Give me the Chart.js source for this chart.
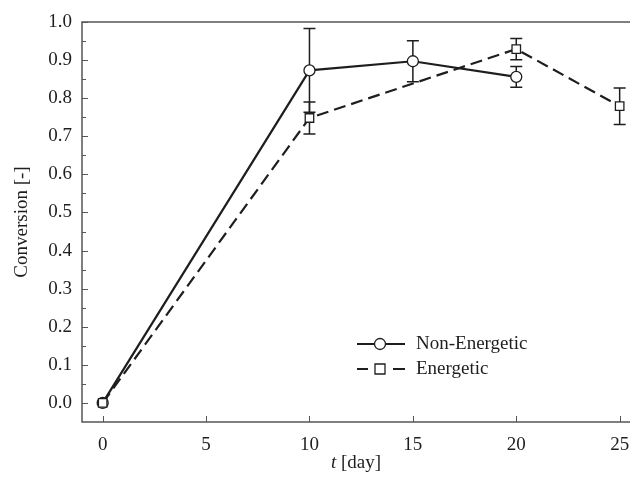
<html>
<head>
    <script src="https://cdn.jsdelivr.net/npm/chart.js"></script>
    <style>
        body { margin: 0; background: #fff; }
    </style>
</head>
<body>
    <canvas id="chart_id" width="630" height="479"></canvas>
    <script>
        // 데이터
        const dayTicks = [0, 5, 10, 15, 20, 25];
        const convTicks = [0.0, 0.1, 0.2, 0.3, 0.4, 0.5, 0.6, 0.7, 0.8, 0.9, 1.0];
        const nonEnergeticDays = [0, 10, 15, 20];
        const nonEnergeticConv = [0.0, 0.873, 0.897, 0.856];
        const nonEnergeticErr = [0, 0.110, 0.054, 0.027];
        const energeticDays = [0, 10, 20, 25];
        const energeticConv = [0.0, 0.748, 0.929, 0.779];
        const energeticErr = [0, 0.042, 0.028, 0.048];

        const INK = '#1e1e1e';
        const AXIS = '#555';
        const FONT = '"Liberation Serif", "DejaVu Serif", serif';

        const toPoints = (xs, ys) => xs.map((x, i) => ({ x: x, y: ys[i] }));

        // 에러바
        const errorBars = {
            id: 'errorBars',
            beforeDatasetsDraw(chart) {
                const { ctx, scales: { x, y } } = chart;
                const sets = [
                    [nonEnergeticDays, nonEnergeticConv, nonEnergeticErr],
                    [energeticDays, energeticConv, energeticErr]
                ];
                ctx.save();
                ctx.strokeStyle = INK;
                ctx.lineWidth = 1.5;
                sets.forEach(([xs, ys, es]) => {
                    xs.forEach((d, i) => {
                        if (!es[i]) return;
                        const px = x.getPixelForValue(d);
                        const top = y.getPixelForValue(ys[i] + es[i]);
                        const bot = y.getPixelForValue(ys[i] - es[i]);
                        ctx.beginPath();
                        ctx.moveTo(px, top); ctx.lineTo(px, bot);
                        ctx.moveTo(px - 6, top); ctx.lineTo(px + 6, top);
                        ctx.moveTo(px - 6, bot); ctx.lineTo(px + 6, bot);
                        ctx.stroke();
                    });
                });
                ctx.restore();
            }
        };

        // 축 테두리, 안쪽 눈금, x 눈금 라벨, 축 제목, 범례
        const frame = {
            id: 'frame',
            afterDraw(chart) {
                const { ctx, chartArea: a, scales: { x, y } } = chart;
                ctx.save();
                ctx.strokeStyle = AXIS;
                ctx.lineWidth = 1.5;
                ctx.beginPath();
                ctx.moveTo(a.right, a.top); ctx.lineTo(a.left, a.top);
                ctx.lineTo(a.left, a.bottom); ctx.lineTo(a.right, a.bottom);
                ctx.stroke();

                ctx.lineWidth = 1;
                ctx.beginPath();
                convTicks.forEach(v => {
                    const py = Math.round(y.getPixelForValue(v)) + 0.5;
                    ctx.moveTo(a.left, py); ctx.lineTo(a.left + 6, py);
                    const pm = Math.round(y.getPixelForValue(v + 0.05)) + 0.5;
                    if (v + 0.05 < 1.0) { ctx.moveTo(a.left, pm); ctx.lineTo(a.left + 4, pm); }
                });
                dayTicks.forEach(v => {
                    const px = Math.round(x.getPixelForValue(v)) + 0.5;
                    ctx.moveTo(px, a.bottom); ctx.lineTo(px, a.bottom - 6);
                });
                ctx.stroke();

                ctx.fillStyle = INK;
                ctx.textBaseline = 'middle';
                ctx.font = '19px ' + FONT;
                ctx.textAlign = 'center';
                dayTicks.forEach(v => {
                    ctx.fillText(String(v), x.getPixelForValue(v), a.bottom + 23);
                });

                // 축 제목
                ctx.font = 'italic 19px ' + FONT;
                const tW = ctx.measureText('t').width;
                ctx.font = '19px ' + FONT;
                const rW = ctx.measureText(' [day]').width;
                const cx = (a.left + a.right) / 2;
                const sx = cx - (tW + rW) / 2;
                ctx.textAlign = 'left';
                ctx.font = 'italic 19px ' + FONT;
                ctx.fillText('t', sx, 463);
                ctx.font = '19px ' + FONT;
                ctx.fillText(' [day]', sx + tW, 463);

                ctx.save();
                ctx.translate(22, (a.top + a.bottom) / 2);
                ctx.rotate(-Math.PI / 2);
                ctx.textAlign = 'center';
                ctx.fillText('Conversion [-]', 0, 0);
                ctx.restore();

                // 범례
                const rows = [
                    { label: 'Non-Energetic', dash: false, style: 'circle', y: 344 },
                    { label: 'Energetic', dash: true, style: 'rect', y: 369 }
                ];
                rows.forEach(r => {
                    ctx.strokeStyle = INK;
                    ctx.lineWidth = 2;
                    ctx.beginPath();
                    if (r.dash) {
                        ctx.moveTo(357, r.y); ctx.lineTo(368, r.y);
                        ctx.moveTo(393, r.y); ctx.lineTo(405, r.y);
                    } else {
                        ctx.moveTo(357, r.y); ctx.lineTo(405, r.y);
                    }
                    ctx.stroke();
                    ctx.lineWidth = 1.3;
                    ctx.fillStyle = '#fff';
                    ctx.beginPath();
                    if (r.style === 'circle') ctx.arc(380, r.y, 5.5, 0, Math.PI * 2);
                    else ctx.rect(375, r.y - 5, 10, 10);
                    ctx.fill(); ctx.stroke();
                    ctx.fillStyle = INK;
                    ctx.textAlign = 'left';
                    ctx.fillText(r.label, 416, r.y);
                });
                ctx.restore();
            }
        };

        new Chart(document.getElementById('chart_id'), {
            type: 'scatter',
            data: {
                datasets: [{
                    label: 'Non-Energetic',
                    data: toPoints(nonEnergeticDays, nonEnergeticConv),
                    showLine: true,
                    borderColor: INK,
                    borderWidth: 2.2,
                    pointStyle: 'circle',
                    pointRadius: 5.5,
                    pointBorderWidth: 1.3,
                    pointBackgroundColor: '#fff',
                    pointBorderColor: INK,
                    order: 1
                }, {
                    label: 'Energetic',
                    data: toPoints(energeticDays, energeticConv),
                    showLine: true,
                    borderColor: INK,
                    borderWidth: 2.2,
                    borderDash: [12, 6],
                    pointStyle: 'rect',
                    pointRadius: 6,
                    pointBorderWidth: 1.3,
                    pointBackgroundColor: '#fff',
                    pointBorderColor: INK,
                    order: 0
                }]
            },
            options: {
                responsive: false,
                animation: false,
                layout: { autoPadding: false, padding: { top: 22, right: 0, left: 0, bottom: 0 } },
                plugins: { legend: { display: false }, tooltip: { enabled: false } },
                scales: {
                    x: {
                        type: 'linear',
                        min: -1,
                        max: 25.5,
                        grid: { display: false },
                        border: { display: false },
                        afterBuildTicks: s => { s.ticks = dayTicks.map(v => ({ value: v })); },
                        afterFit: s => { s.height = 57; },
                        ticks: { display: false }
                    },
                    y: {
                        min: -0.05,
                        max: 1.0,
                        grid: { display: false },
                        border: { display: false },
                        afterBuildTicks: s => { s.ticks = convTicks.map(v => ({ value: v })); },
                        afterFit: s => { s.width = 82; s.paddingTop = 0; s.paddingBottom = 0; },
                        ticks: {
                            padding: 2,
                            color: INK,
                            font: { family: FONT, size: 19 },
                            callback: v => Number(v).toFixed(1)
                        }
                    }
                }
            },
            plugins: [errorBars, frame]
        });
    </script>
</body>
</html>
